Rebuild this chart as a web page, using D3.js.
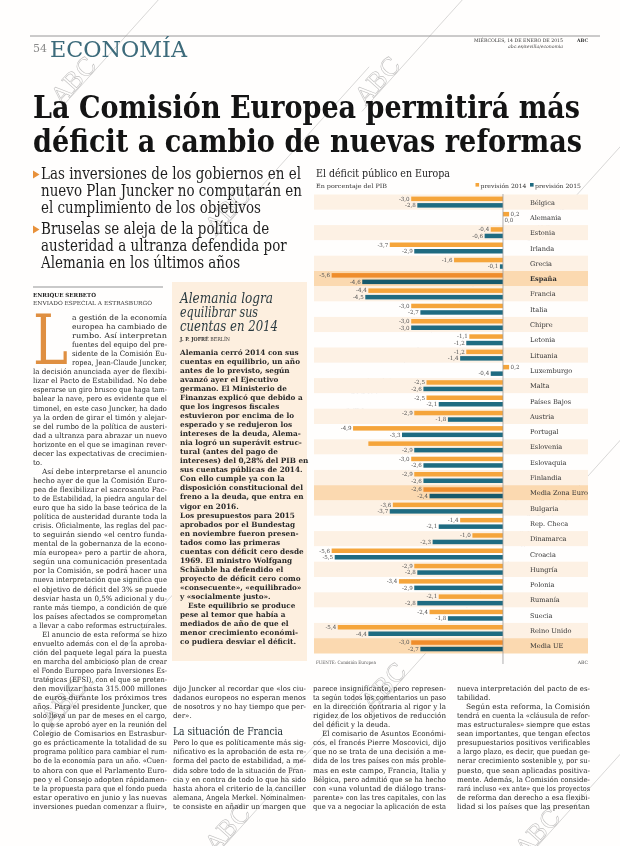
<!DOCTYPE html>
<html><head><meta charset="utf-8">
<script src="https://cdn.jsdelivr.net/npm/d3@7"></script>
<style>html,body{margin:0;padding:0;background:#fff;}svg{display:block}</style>
</head><body>
<svg id="page" width="620" height="846"></svg>
<script>
// ---------------- DATA ----------------
const countries = ["Bélgica","Alemania","Estonia","Irlanda","Grecia","España","Francia","Italia","Chipre","Letonia","Lituania","Luxemburgo","Malta","Países Bajos","Austria","Portugal","Eslovenia","Eslovaquia","Finlandia","Media Zona Euro","Bulgaria","Rep. Checa","Dinamarca","Croacia","Hungría","Polonia","Rumanía","Suecia","Reino Unido","Media UE"];
const deficit2014 = [-3.0,0.2,-0.4,-3.7,-1.6,-5.6,-4.4,-3.0,-3.0,-1.1,-1.2,0.2,-2.5,-2.5,-2.9,-4.9,-4.4,-3.0,-2.9,-2.6,-3.6,-1.4,-1.0,-5.6,-2.9,-3.4,-2.1,-2.4,-5.4,-3.0];
const deficit2015 = [-2.8,0.0,-0.6,-2.9,-0.1,-4.6,-4.5,-2.7,-3.0,-1.2,-1.4,-0.4,-2.6,-2.1,-1.8,-3.3,-2.9,-2.6,-2.6,-2.4,-3.7,-2.1,-2.3,-5.5,-2.8,-2.9,-2.8,-1.8,-4.4,-2.7];
const highlightedRows = ["España","Media Zona Euro","Media UE"];
const boldRows = ["España"];
const hiddenLabels2014 = ["Eslovenia"];
const seriesNames = ["previsión 2014","previsión 2015"];
const chartTitle = "El déficit público en Europa";
const chartSubtitle = "En porcentaje del PIB";
const chartSource = "FUENTE: Comisión Europea";

// ---------------- TEXTS ----------------
const headline = ["La Comisión Europea permitirá más","déficit a cambio de nuevas reformas"];
const subheads = [
  ["Las inversiones de los gobiernos en el","nuevo Plan Juncker no computarán en","el cumplimiento de los objetivos"],
  ["Bruselas se aleja de la política de","austeridad a ultranza defendida por","Alemania en los últimos años"]
];
const leftParas = [
 {short:true, lines:["a gestión de la economía","europea ha cambiado de","rumbo. Así interpretan","fuentes del equipo del pre-","sidente de la Comisión Eu-","ropea, Jean-Claude Juncker,","la decisión anunciada ayer de flexibi-","lizar el Pacto de Estabilidad. No debe","esperarse un giro brusco que haga tam-","balear la nave, pero es evidente que el","timonel, en este caso Juncker, ha dado","ya la orden de girar el timón y alejar-","se del rumbo de la política de austeri-","dad a ultranza para abrazar un nuevo","horizonte en el que se imaginan rever-","decer las expectativas de crecimien-","to."]},
 {short:false, lines:["Así debe interpretarse el anuncio","hecho ayer de que la Comisión Euro-","pea de flexibilizar el sacrosanto Pac-","to de Estabilidad, la piedra angular del","euro que ha sido la base teórica de la","política de austeridad durante toda la","crisis. Oficialmente, las reglas del pac-","to seguirán siendo «el centro funda-","mental de la gobernanza de la econo-","mía europea» pero a partir de ahora,","según una comunicación presentada","por la Comisión, se podrá hacer una","nueva interpretación que significa que","el objetivo de déficit del 3% se puede","desviar hasta un 0,5% adicional y du-","rante más tiempo, a condición de que","los países afectados se comprometan","a llevar a cabo reformas estructurales."]},
 {short:false, lines:["El anuncio de esta reforma se hizo","envuelto además con el de la aproba-","ción del paquete legal para la puesta","en marcha del ambicioso plan de crear","el Fondo Europeo para Inversiones Es-","tratégicas (EFSI), con el que se preten-","den movilizar hasta 315.000 millones","de euros durante los próximos tres","años. Para el presidente Juncker, que","solo lleva un par de meses en el cargo,","lo que se aprobó ayer en la reunión del","Colegio de Comisarios en Estrasbur-","go es prácticamente la totalidad de su","programa político para cambiar el rum-","bo de la economía para un año. «Cuen-","to ahora con que el Parlamento Euro-","peo y el Consejo adopten rápidamen-","te la propuesta para que el fondo pueda","estar operativo en junio y las nuevas","inversiones puedan comenzar a fluir»,"]}
];
const midParasA = [{short:true, cont:true, lines:["dijo Juncker al recordar que «los ciu-","dadanos europeos no esperan menos","de nosotros y no hay tiempo que per-","der»."]}];
const midHeading = "La situación de Francia";
const midParasB = [{short:false, cont:true, lines:["Pero lo que es políticamente más sig-","nificativo es la aprobación de esta re-","forma del pacto de estabilidad, a me-","dida sobre todo de la situación de Fran-","cia y en contra de todo lo que ha sido","hasta ahora el criterio de la canciller","alemana, Angela Merkel. Nominalmen-","te consiste en añadir un margen que"]}];
const col3Paras = [
 {short:true, cont:true, lines:["parece insignificante, pero represen-","ta según todos los comentarios un paso","en la dirección contraria al rigor y la","rigidez de los objetivos de reducción","del déficit y la deuda."]},
 {short:false, lines:["El comisario de Asuntos Económi-","cos, el francés Pierre Moscovici, dijo","que no se trata de una decisión a me-","dida de los tres países con más proble-","mas en este campo, Francia, Italia y","Bélgica, pero admitió que se ha hecho","con «una voluntad de diálogo trans-","parente» con las tres capitales, con las","que va a negociar la aplicación de esta"]}
];
const col4Paras = [
 {short:true, cont:true, lines:["nueva interpretación del pacto de es-","tabilidad."]},
 {short:false, lines:["Según esta reforma, la Comisión","tendrá en cuenta la «cláusula de refor-","mas estructurales» siempre que estas","sean importantes, que tengan efectos","presupuestarios positivos verificables","a largo plazo, es decir, que puedan ge-","nerar crecimiento sostenible y, por su-","puesto, que sean aplicadas positiva-","mente. Además, la Comisión conside-","rará incluso «ex ante» que los proyectos","de reforma dan derecho a esa flexibi-","lidad si los países que las presentan"]}
];
const sideTitle = ["Alemania logra","equilibrar sus","cuentas en 2014"];
const sideBody = ["Alemania cerró 2014 con sus","cuentas en equilibrio, un año","antes de lo previsto, según","avanzó ayer el Ejecutivo","germano. El Ministerio de","Finanzas explicó que debido a","que los ingresos fiscales","estuvieron por encima de lo","esperado y se redujeron los","intereses de la deuda, Alema-","nia logró un superávit estruc-","tural (antes del pago de","intereses) del 0,28% del PIB en","sus cuentas públicas de 2014.","Con ello cumple ya con la","disposición constitucional del","freno a la deuda, que entra en","vigor en 2016.","Los presupuestos para 2015","aprobados por el Bundestag","en noviembre fueron presen-","tados como las primeras","cuentas con déficit cero desde","1969. El ministro Wolfgang","Schäuble ha defendido el","proyecto de déficit cero como","«consecuente», «equilibrado»","y «socialmente justo».","Este equilibrio se produce","pese al temor que había a","mediados de año de que el","menor crecimiento económi-","co pudiera desviar el déficit."];

// ---------------- HELPERS ----------------
const svg = d3.select("#page");
const SERIF = "'DejaVu Serif', 'Liberation Serif', serif";
svg.append("rect").attr("width",620).attr("height",846).attr("fill","#fffefd");

function fit(sel, kDefault) {
  const nat = sel.nodes().map(n => n.getComputedTextLength());
  const ratios = [];
  sel.each(function(d,i){ if (d.w) ratios.push(d.w / nat[i]); });
  const k = ratios.length ? d3.median(ratios) : kDefault;
  sel.each(function(d,i){
    const w = d.w ? d.w : nat[i] * Math.min(k, 1.0);
    d3.select(this).attr("textLength", w).attr("lengthAdjust","spacingAndGlyphs");
  });
}
function place(parent, specs, style) {
  const sel = parent.selectAll(null).data(specs).enter().append("text")
    .attr("x", d => d.x).attr("y", d => d.y).text(d => d.text)
    .style("font-family", style.family || SERIF)
    .style("font-size", style.size + "px")
    .style("font-weight", style.weight || "normal")
    .style("font-style", style.italic ? "italic" : "normal")
    .attr("fill", style.fill || "#222");
  fit(sel, style.k || 0.9);
  return sel;
}
const LINE0 = 320, STEP = 9.05;
function lineY(i){ return LINE0 + i*STEP; }
function columnSpecs(paras, x0, x1, startIdx, opts) {
  const specs = []; let idx = startIdx;
  paras.forEach((p, pi) => {
    p.lines.forEach((t, li) => {
      let x = x0;
      if (li === 0 && !p.cont && !(opts && opts.dropFirst && pi === 0)) x = x0 + 9;
      if (opts && opts.dropFirst && pi === 0 && li < 6) x = opts.dropX;
      const isLast = li === p.lines.length - 1;
      specs.push({text:t, x:x, y:lineY(idx), w:(isLast && p.short) ? null : (x1 - x)});
      idx++;
    });
  });
  return specs;
}

// ---------------- WATERMARKS (scan stamp) ----------------
const wmCenters = [[88,78],[392,78],[242,208],[556,218],[378,392],[552,516],[78,700],[398,684],[242,826],[552,830]];
const wm = svg.append("g").attr("opacity",0.55);
const ang = -48 * Math.PI/180, dx = Math.cos(ang), dy = Math.sin(ang);
wmCenters.forEach(([cx,cy]) => {
  wm.append("line").attr("x1", cx - 45*dx).attr("y1", cy - 45*dy)
    .attr("x2", cx + 190*dx).attr("y2", cy + 190*dy)
    .attr("stroke","#9a9a9a").attr("stroke-width",0.7);
  wm.append("text").attr("transform", `translate(${cx-8},${cy+8}) rotate(-48)`)
    .attr("text-anchor","middle").style("font-family",SERIF).style("font-size","24px")
    .attr("fill","none").attr("stroke","#8f8f8f").attr("stroke-width",0.6).text("ABC");
});

// ---------------- HEADER ----------------
svg.append("line").attr("x1",30).attr("x2",600).attr("y1",36).attr("y2",36).attr("stroke","#8c8c8c").attr("stroke-width",0.9);
svg.append("text").attr("x",33).attr("y",52).style("font-family",SERIF).style("font-size","11px").attr("fill","#8a8a8a").text("54");
svg.append("text").attr("x",50).attr("y",57).style("font-family",SERIF).style("font-size","23px").attr("fill","#3d6b7b")
  .attr("textLength",137).attr("lengthAdjust","spacingAndGlyphs").text("ECONOMÍA");
svg.append("text").attr("x",474).attr("y",42).style("font-family",SERIF).style("font-size","4.8px").attr("fill","#333")
  .attr("textLength",89).attr("lengthAdjust","spacingAndGlyphs").text("MIÉRCOLES, 14 DE ENERO DE 2015");
svg.append("text").attr("x",577).attr("y",42).style("font-family",SERIF).style("font-size","4.8px").style("font-weight","bold").attr("fill","#333")
  .attr("textLength",11).attr("lengthAdjust","spacingAndGlyphs").text("ABC");
svg.append("text").attr("x",508).attr("y",48).style("font-family",SERIF).style("font-size","4.6px").style("font-style","italic").attr("fill","#444")
  .attr("textLength",55).attr("lengthAdjust","spacingAndGlyphs").text("abc.es/sevilla/economia");

// Headline
place(svg, headline.map((t,i) => ({text:t, x:33, y:[118,152][i], w:[547,549][i]})), {size:31, weight:"bold", fill:"#141414"});

// Subheads
const subY = [[179,196,213],[234,251,268]];
const subSpecs = [];
subheads.forEach((g,gi) => g.forEach((t,li) => subSpecs.push({text:t, x:41, y:subY[gi][li], w:(gi===0 && li===1) ? 261 : null})));
place(svg, subSpecs, {size:16.5, fill:"#1e1e1e"});
subY.forEach(ys => {
  const b = ys[0];
  svg.append("path").attr("d", `M33,${b-8.5} L39.5,${b-4.5} L33,${b-0.5} Z`).attr("fill","#e8913a");
});

// Byline
svg.append("rect").attr("x",33).attr("y",286).attr("width",130).attr("height",2).attr("fill","#c9c9c9");
svg.append("text").attr("x",33).attr("y",296.5).style("font-family",SERIF).style("font-size","5.6px").style("font-weight","bold").attr("fill","#222")
  .attr("textLength",63).attr("lengthAdjust","spacingAndGlyphs").text("ENRIQUE SERBETO");
svg.append("text").attr("x",33).attr("y",304.5).style("font-family",SERIF).style("font-size","5.6px").attr("fill","#333")
  .attr("textLength",119).attr("lengthAdjust","spacingAndGlyphs").text("ENVIADO ESPECIAL A ESTRASBURGO");

// Drop cap
svg.append("text").attr("x",33).attr("y",364).style("font-family",SERIF).style("font-size","70px").attr("fill","#df8f41")
  .attr("textLength",35).attr("lengthAdjust","spacingAndGlyphs").text("L");

// Body columns
const bodyStyle = {size:7.3, fill:"#262626"};
place(svg, columnSpecs(leftParas, 33, 167, 0, {dropFirst:true, dropX:72}), bodyStyle);
place(svg, columnSpecs(midParasA, 173, 306, 41), bodyStyle);
place(svg, columnSpecs(midParasB, 173, 306, 47), bodyStyle);
svg.append("text").attr("x",173).attr("y",lineY(46)-1).style("font-family",SERIF).style("font-size","11.5px").attr("fill","#1b2a30")
  .attr("textLength",110).attr("lengthAdjust","spacingAndGlyphs").text(midHeading);
place(svg, columnSpecs(col3Paras, 313, 446, 41), bodyStyle);
place(svg, columnSpecs(col4Paras, 457, 590, 41), bodyStyle);

// Sidebar
svg.append("rect").attr("x",172).attr("y",282).attr("width",135).attr("height",379).attr("fill","#fdefdf");
place(svg, sideTitle.map((t,i) => ({text:t, x:180, y:[303,317,331][i], w:[93,78,98][i]})), {size:15.5, italic:true, fill:"#2a3a40"});
const by = svg.append("text").attr("x",180).attr("y",341).style("font-family",SERIF).style("font-size","5.4px").attr("fill","#333")
  .attr("textLength",50).attr("lengthAdjust","spacingAndGlyphs");
by.append("tspan").style("font-weight","bold").text("J. P. JOFRÉ ");
by.append("tspan").text("BERLÍN");
place(svg, sideBody.map((t,i) => ({text:t, x: i===28 ? 188 : 180, y:355 + i*9.03, w: t.startsWith("disposición") ? 123 : null})), {size:7.3, weight:"bold", fill:"#2a2a2a"});

// ---------------- CHART ----------------
const chart = svg.append("g");
const x = d3.scaleLinear().domain([-6, 0.7]).range([319.4, 524.4]);
const y = d3.scaleBand().domain(countries).range([194.5, 194.5 + countries.length*15.3]);
const bw = y.bandwidth();
const fmt = v => d3.format(".1f")(v).replace(".", ",").replace("−","-");

chart.append("text").attr("x",316).attr("y",177).style("font-family",SERIF).style("font-size","11.5px").attr("fill","#222")
  .attr("textLength",134).attr("lengthAdjust","spacingAndGlyphs").text(chartTitle);
chart.append("text").attr("x",316).attr("y",187.5).style("font-family",SERIF).style("font-size","5.8px").attr("fill","#333")
  .attr("textLength",71).attr("lengthAdjust","spacingAndGlyphs").text(chartSubtitle);
const legendColors = ["#f5a53b","#1f6b81"];
seriesNames.forEach((s,i) => {
  const lx = [475.5, 530][i];
  chart.append("rect").attr("x",lx).attr("y",183).attr("width",3.6).attr("height",3.6).attr("fill",legendColors[i]);
  chart.append("text").attr("x",lx+5).attr("y",187.5).style("font-family",SERIF).style("font-size","5.8px").attr("fill","#333")
    .attr("textLength",46).attr("lengthAdjust","spacingAndGlyphs").text(s);
});

chart.selectAll("rect.band").data(countries).enter().append("rect")
  .attr("x",314).attr("width",274).attr("y", d => y(d)).attr("height", bw)
  .attr("fill", (d,i) => highlightedRows.includes(d) ? "#fbd9b0" : (i % 2 === 0 ? "#fdf1e4" : "#fffefd"));

const rows = countries.map((c,i) => ({c, v14:deficit2014[i], v15:deficit2015[i], hi:highlightedRows.includes(c)}));
function bars(key, off, col, colHi) {
  chart.selectAll(null).data(rows.filter(r => r[key] !== 0)).enter().append("rect")
    .attr("x", r => x(Math.min(0, r[key]))).attr("width", r => Math.abs(x(r[key]) - x(0)))
    .attr("y", r => y(r.c) + off).attr("height", 4.5)
    .attr("fill", r => r.hi ? colHi : col);
  chart.selectAll(null).data(rows.filter(r => !(key === "v14" && hiddenLabels2014.includes(r.c)))).enter().append("text")
    .attr("x", r => r[key] < 0 ? x(r[key]) - 1.5 : x(r[key]) + 1.5)
    .attr("y", r => y(r.c) + off + 4)
    .attr("text-anchor", r => r[key] < 0 ? "end" : "start")
    .style("font-family",SERIF).style("font-size","5.6px").attr("fill","#555")
    .text(r => fmt(r[key]));
}
bars("v14", 2.1, "#f5a53b", "#ef8d2c");
bars("v15", 8.6, "#1f6b81", "#17596b");

chart.append("line").attr("x1",x(0)).attr("x2",x(0)).attr("y1",194).attr("y2",664).attr("stroke","#9b9b9b").attr("stroke-width",0.8);

chart.selectAll("text.country").data(countries).enter().append("text")
  .attr("x",530).attr("y", d => y(d) + bw/2 + 2.5)
  .style("font-family",SERIF).style("font-size","6.6px")
  .style("font-weight", d => boldRows.includes(d) ? "bold" : "normal")
  .attr("fill","#333").text(d => d);

chart.append("text").attr("x",316).attr("y",664).style("font-family",SERIF).style("font-size","4.6px").attr("fill","#555")
  .attr("textLength",60).attr("lengthAdjust","spacingAndGlyphs").text(chartSource);
chart.append("text").attr("x",588).attr("y",664).attr("text-anchor","end").style("font-family",SERIF).style("font-size","4.6px").attr("fill","#555").text("ABC");
</script>
</body></html>
